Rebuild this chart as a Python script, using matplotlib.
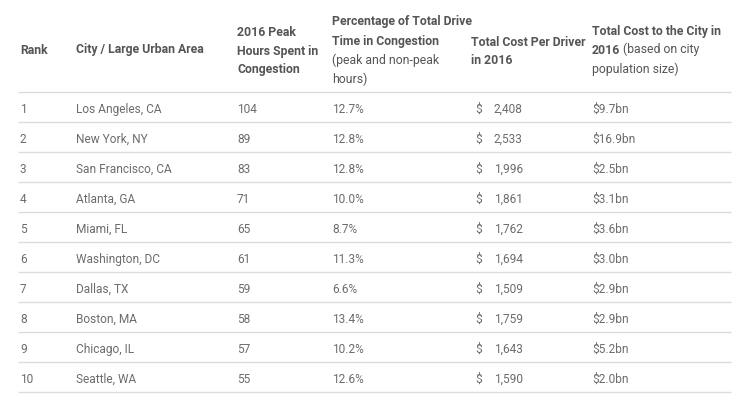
import matplotlib.pyplot as plt

ranks = [1, 2, 3, 4, 5, 6, 7, 8, 9, 10]
cities = ["Los Angeles, CA", "New York, NY", "San Francisco, CA", "Atlanta, GA",
          "Miami, FL", "Washington, DC", "Dallas, TX", "Boston, MA",
          "Chicago, IL", "Seattle, WA"]
peak_hours = [104, 89, 83, 71, 65, 61, 59, 58, 57, 55]
pct_congestion = [12.7, 12.8, 12.8, 10.0, 8.7, 11.3, 6.6, 13.4, 10.2, 12.6]
cost_per_driver = [2408, 2533, 1996, 1861, 1762, 1694, 1509, 1759, 1643, 1590]
cost_city_bn = [9.7, 16.9, 2.5, 3.1, 3.6, 3.0, 2.9, 2.9, 5.2, 2.0]

FONT = "Roboto"
HEAD = "#555555"
BODY = "#6c6c6c"
RULE = "#dcdcdc"
FS = 8.6
HFS = 8.8

fig = plt.figure(figsize=(7.32, 4.10), dpi=100)
ax = fig.add_axes([0, 0, 1, 1])
ax.set_xlim(0, 732)
ax.set_ylim(410, 0)
ax.axis("off")

col_x = [20, 76, 237, 332, 471, 592]


def head(x, y, s, bold=True):
    return ax.text(x, y, s, fontsize=HFS, family=FONT, color=HEAD,
                   fontweight="bold" if bold else "normal", va="center", ha="left")


# header
head(col_x[0], 50, "Rank")
head(col_x[1], 50, "City / Large Urban Area")
head(col_x[2], 32, "2016 Peak")
head(col_x[2], 51, "Hours Spent in")
head(col_x[2], 69, "Congestion")
head(col_x[3], 22, "Percentage of Total Drive")
head(col_x[3], 41, "Time in Congestion")
head(col_x[3], 60, "(peak and non-peak", bold=False)
head(col_x[3], 79, "hours)", bold=False)
head(col_x[4], 42, "Total Cost Per Driver")
head(col_x[4], 60, "in 2016")
head(col_x[5], 32, "Total Cost to the City in")
t = head(col_x[5], 50, "2016")
ax.annotate(" (based on city", xy=(1, 0), xycoords=t, fontsize=HFS, family=FONT,
            color=HEAD, va="bottom", ha="left")
head(col_x[5], 69, "population size)", bold=False)

# rules
row_h = 30
top = 93
for k in range(len(ranks) + 1):
    ax.plot([18, 731], [top + k * row_h] * 2, color=RULE, lw=1, solid_capstyle="butt")

# body rows
for i in range(len(ranks)):
    y = top + i * row_h + row_h / 2 + 1.5
    kw = dict(fontsize=FS, family=FONT, color=BODY, va="center", ha="left")
    ax.text(col_x[0], y, str(ranks[i]), **kw)
    ax.text(col_x[1], y, cities[i], **kw)
    ax.text(col_x[2], y, str(peak_hours[i]), **kw)
    ax.text(col_x[3], y, f"{pct_congestion[i]:.1f}%", **kw)
    ax.text(475, y, "$", **kw)
    ax.text(494, y, f"{cost_per_driver[i]:,}", **kw)
    ax.text(col_x[5], y, f"${cost_city_bn[i]:.1f}bn", **kw)

fig.savefig("out.png", dpi=100)
